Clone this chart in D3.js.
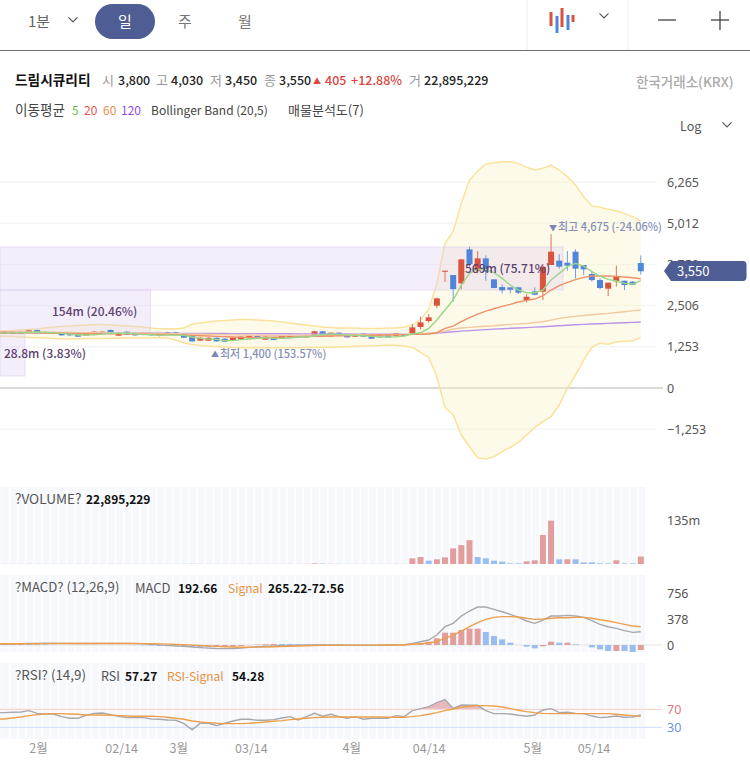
<!DOCTYPE html>
<html><head><meta charset="utf-8">
<script src="https://cdn.jsdelivr.net/npm/d3@7"></script>
<style>
html,body{margin:0;padding:0;background:#fff;overflow:hidden}
text{font-family:"Noto Sans CJK KR","Noto Sans",sans-serif}
</style></head><body>
<svg id="c" width="750" height="784"></svg>
<script>
const opens=[1652,1652,1652,1682,1763,1702,1702,1672,1672,1631,1601,1642,1652,1763,1591,1712,1672,1672,1662,1642,1692,1692,1631,1581,1439,1439,1530,1500,1439,1479,1510,1581,1469,1550,1510,1540,1611,1540,1611,1723,1571,1682,1621,1560,1652,1591,1621,1621,1581,1642,
1661,1854,2036,2503,3537,3436,3182,4216,3567,3942,3304,3070,3060,3060,2675,2939,2929,3740,3872,3811,4145,3740,3466,3283,3020,3243,3263,3233,3800];
const closes=[1712,1712,1712,1753,1682,1682,1672,1601,1601,1560,1662,1712,1712,1662,1672,1621,1601,1611,1601,1581,1621,1621,1530,1418,1530,1530,1418,1408,1530,1560,1591,1500,1560,1459,1581,1611,1540,1611,1723,1621,1682,1581,1540,1642,1560,1500,1540,1540,1662,1581,
1844,1996,2148,2726,3567,3010,3912,3770,3942,3537,3040,2969,2989,2898,2776,2837,3689,4145,3689,3720,3628,3608,3283,3040,3202,3385,3131,3141,3550];
const highs=[1725,1725,1730,1770,1780,1720,1715,1690,1690,1650,1680,1730,1725,1785,1690,1730,1690,1690,1680,1660,1710,1710,1650,1590,1545,1545,1540,1510,1545,1575,1605,1600,1575,1565,1595,1625,1625,1625,1735,1740,1695,1695,1635,1655,1665,1605,1635,1635,1675,1655,
1945,2168,2249,2746,3567,3436,3912,4297,4166,4034,3304,3152,3060,3080,2847,3060,3740,4675,4064,4166,4216,3740,3557,3334,3202,3720,3263,3253,4030];
const lows=[1640,1640,1640,1670,1670,1670,1660,1590,1590,1550,1590,1630,1640,1650,1580,1610,1590,1600,1590,1570,1610,1610,1520,1410,1430,1430,1410,1400,1430,1470,1500,1490,1460,1450,1500,1530,1530,1530,1600,1610,1560,1570,1530,1550,1550,1490,1530,1530,1570,1570,
1641,1793,1985,2432,3223,2624,3000,3689,3486,3263,3040,2878,2878,2858,2604,2817,2675,3740,3628,3567,3334,3436,3233,3000,2797,3081,2979,3131,3450];
const ma5=[1670,1675,1680,1690,1695,1690,1685,1660,1640,1610,1610,1620,1640,1670,1660,1670,1650,1630,1620,1600,1610,1610,1600,1550,1510,1490,1480,1440,1440,1470,1490,1510,1530,1510,1510,1520,1550,1550,1590,1620,1640,1630,1610,1600,1590,1570,1560,1550,1560,1580,
1641,1681,1813,2067,2371,2675,3131,3486,3608,3608,3506,3334,3131,2979,2898,2898,2979,3283,3486,3689,3790,3709,3537,3405,3304,3253,3182,3162,3263];
const ma20=[1690,1685,1680,1675,1670,1670,1665,1665,1660,1655,1650,1650,1650,1650,1650,1645,1640,1640,1635,1630,1625,1620,1610,1600,1590,1580,1570,1560,1550,1545,1540,1540,1545,1545,1550,1555,1560,1565,1570,1575,1580,1585,1590,1595,1600,1605,1610,1612,1615,1622,
1631,1631,1641,1681,1813,1884,2016,2138,2249,2340,2411,2482,2543,2614,2665,2705,2807,2979,3111,3212,3294,3365,3405,3405,3405,3395,3375,3354,3324];
const ma60=[1700,1700,1705,1705,1700,1700,1695,1690,1690,1685,1680,1680,1675,1675,1670,1670,1665,1665,1660,1660,1655,1650,1645,1640,1635,1630,1625,1620,1615,1610,1610,1605,1605,1600,1600,1600,1600,1600,1605,1605,1605,1610,1610,1610,1615,1615,1620,1620,1625,1630,
1640,1650,1665,1690,1732,1793,1823,1845,1864,1880,1894,1915,1935,1950,1965,1990,2016,2065,2117,2150,2178,2205,2229,2250,2269,2295,2320,2345,2371];
const ma120=[1690,1688,1686,1685,1682,1680,1679,1676,1675,1674,1673,1672,1671,1670,1669,1668,1667,1666,1665,1664,1663,1662,1661,1660,1659,1658,1657,1656,1655,1654,1653,1652,1651,1650,1649,1648,1647,1646,1645,1644,1643,1642,1641,1640,1639,1638,1637,1636,1635,1630,
1631,1645,1658,1672,1690,1710,1730,1745,1760,1775,1790,1800,1815,1825,1835,1850,1864,1880,1895,1910,1925,1935,1945,1955,1965,1975,1985,1995,2006];
const bbUpper=[1733,1749,1764,1779,1794,1825,1855,1870,1885,1901,1916,1931,1931,1916,1901,1885,1870,1855,1825,1794,1809,1794,1825,1946,1977,2007,2037,2053,2068,2083,2083,2068,2053,2037,2007,1977,1946,1916,1885,1855,1840,1825,1825,1825,1809,1809,1809,1825,1825,1855,
1915,2067,2391,3182,4399,4754,5616,6325,6599,6812,6853,6883,6883,6832,6711,6630,6680,6782,6630,6427,6173,5818,5545,5494,5433,5383,5311,5210,5078];
const bbLower=[1572,1563,1551,1539,1530,1521,1505,1490,1490,1496,1499,1505,1508,1511,1514,1517,1521,1524,1530,1530,1521,1460,1368,1323,1292,1277,1262,1247,1232,1225,1225,1222,1222,1222,1222,1222,1225,1229,1232,1235,1241,1247,1256,1268,1277,1283,1292,1308,1295,1277,
1236,1084,932,344,-589,-822,-1430,-1785,-2120,-2160,-2089,-1937,-1805,-1653,-1430,-1197,-1025,-873,-518,-11,395,851,1236,1358,1328,1399,1419,1439,1531];
const volume=[0.4,0.3,0.4,0.5,0.5,0.3,0.3,0.4,0.4,0.5,0.4,0.5,0.4,0.6,0.5,0.4,0.3,0.3,0.3,0.4,0.3,0.3,0.5,0.9,0.5,0.4,0.5,0.4,0.4,0.4,0.5,0.4,0.4,0.4,0.4,0.5,0.4,0.5,2.0,1.0,0.7,0.6,0.4,0.4,0.5,0.5,0.3,0.3,0.5,0.4,
17.4,21.5,10.2,14.3,20.5,48,58,73,21.5,17.4,10.2,7.2,2,2,8.2,11.3,89,133,14.3,14.3,14.3,5,5,2,2,11.3,2,2,22.9];
const volumeUp=[1,1,1,1,0,0,0,0,0,0,1,1,1,0,1,0,0,0,0,0,0,0,0,0,1,1,0,0,1,1,1,0,1,0,1,1,0,1,1,0,1,0,0,1,0,0,0,0,1,0,
1,1,0,1,1,1,1,1,0,0,0,0,0,0,1,1,1,1,0,1,0,0,0,0,0,1,0,0,1];
const macd=[15,18,20,22,24,25,25,24,23,22,21,22,23,24,24,23,20,16,10,2,-5,-12,-20,-30,-38,-45,-50,-52,-50,-45,-35,-25,-18,-12,-8,-5,-3,-2,0,2,2,0,-2,-3,-3,-3,-2,0,2,5,
24,48,73,145,266,315,421,494,552,552,518,484,446,402,349,315,363,421,421,431,421,402,354,300,266,242,208,184,193];
const signal=[18,18,18,19,19,20,20,21,21,21,21,21,22,22,22,22,21,20,18,16,12,8,3,-2,-8,-14,-20,-25,-29,-32,-32,-31,-29,-26,-22,-18,-14,-11,-8,-6,-4,-3,-2,-2,-2,-2,-1,-1,0,1,
10,19,29,53,97,145,203,266,325,373,402,412,412,407,388,373,378,388,397,397,402,402,388,368,349,325,300,276,265];
const hist=[12,15,18,15,10,8,5,3,2,1,1,1,1,2,2,1,-1,-4,-8,-14,-17,-20,-23,-28,-30,-31,-30,-27,-21,-13,-3,6,11,14,14,13,11,9,8,8,6,3,0,-1,-1,-1,-1,1,2,4,
15,24,48,97,179,179,218,237,237,189,131,82,34,0,-24,-48,-19,48,34,34,10,0,-34,-63,-87,-87,-87,-102,-73];
const histUp=[1,1,1,0,0,0,0,0,0,0,0,0,0,1,1,0,0,0,0,0,0,0,0,0,0,0,1,1,1,1,1,1,1,1,0,0,0,0,0,1,0,0,0,0,0,0,0,1,1,1,
1,1,1,1,1,1,1,1,1,0,0,0,0,0,0,0,1,1,0,1,0,0,0,0,0,1,0,0,1];
const rsi=[62.6,63.3,64,67,61,59.6,59.6,53.7,50,50,56.7,61,61.9,58.2,54.5,51.5,51.5,51.5,48.5,47.8,46.3,45.6,38.2,24.2,38.9,38.9,33.7,38.9,44.1,47.8,47.8,45.6,45.6,47,50.8,53.7,46.3,53.7,61,54.5,58.9,53.7,50,53.7,47.8,50,50,50,55.9,53.7,
67,71.5,76,85,91.5,72,79.6,78.9,78.9,67,60.4,60.4,59.6,56.7,54.5,57.4,68.5,71.5,62.6,63.3,61,60.4,55,51.5,53,55,52.2,53,57.3];
const rsiSignal=[48.5,50.8,53,55.9,58.2,59.6,60.4,60.4,59.6,58.9,57.4,57.4,57.4,56.7,55.9,55.2,54.5,54.5,54.5,53.7,52.2,50,47.8,44.1,41.9,40.4,38.9,38.2,38.2,38.2,38.9,40.4,41.9,43.4,44.9,47,48.5,50,51.5,52.2,53,53,53,53,53,53,53,52.2,52.2,52.2,
53.7,55.9,58.9,62.6,67,70.7,74.4,76.7,78.1,78.1,77.4,75.2,71.5,67.8,64.8,62.6,61,60.4,60.4,60.4,60.4,60.4,60.4,60.4,60.4,58.9,57.4,55.9,54.3];
const priceTicks=[6265,5012,3759,2506,1253,0,-1253];
const volumeTicks=[135];
const macdTicks=[756,378,0];
const rsiLevels=[70,30];
const dateLabels=["2월","02/14","3월","03/14","4월","04/14","5월","05/14"];
const dateIndex=[4.1,14.3,21.3,30.2,42.5,52,64.7,72.2];
const profileBins=[[4288,2980,569,"569m (75.71%)"],[2980,1672,152,"154m (20.46%)"],[1672,364,25.3,"28.8m (3.83%)"]];

const RED="#d9533d",BLUE="#4f86d9",BARRED="#e29d9d",BARBLUE="#98bdf2";
const svg=d3.select("#c");
const idx=d3.range(opens.length);
const x=d3.scaleLinear().domain([0,78]).range([4.5,640.8]);
const y=d3.scaleLinear().domain([0,6265]).range([388,182]);
const yVol=d3.scaleLinear().domain([0,135]).range([564,520]);
const yMacd=d3.scaleLinear().domain([0,756]).range([645,593]);
const yRsi=d3.scaleLinear().domain([30,70]).range([727.3,709.3]);
const xProfile=d3.scaleLinear().domain([0,569]).range([0,563]);
const leftX=x(-0.55);

/* ---- header ---- */
const T=(s,px,py,o={})=>svg.append("text").attr("x",px).attr("y",py).text(s)
  .attr("font-size",o.size||13).attr("fill",o.fill||"#222").attr("font-weight",o.weight||400)
  .attr("text-anchor",o.anchor||"start");
const chev=(cx,cy,w,col)=>svg.append("path").attr("d",`M${cx-w},${cy-w*0.6}L${cx},${cy+w*0.4}L${cx+w},${cy-w*0.6}`)
  .attr("fill","none").attr("stroke",col||"#555").attr("stroke-width",1.2);
T("1분",28,27,{size:15,fill:"#666"});
chev(73,20,4.5);
svg.append("rect").attr("x",95).attr("y",4).attr("width",60).attr("height",35).attr("rx",17.5).attr("fill","#4e5d94");
T("일",125,27,{size:15,fill:"#fff",anchor:"middle"});
T("주",185,27,{size:15,fill:"#777",anchor:"middle"});
T("월",245,27,{size:15,fill:"#777",anchor:"middle"});
[527,628].forEach(v=>svg.append("line").attr("x1",v).attr("x2",v).attr("y1",0).attr("y2",50).attr("stroke","#eeeeee"));
const iconBars=[[551,12,26,RED],[557,16,33,BLUE],[562,8,27,RED],[568,15,30,BLUE],[573,15,22,RED]];
iconBars.forEach(b=>svg.append("rect").attr("x",b[0]-1.5).attr("y",b[1]).attr("width",3).attr("height",b[2]-b[1]).attr("fill",b[3]));
chev(604,16,4.5);
svg.append("line").attr("x1",658).attr("x2",676).attr("y1",20).attr("y2",20).attr("stroke","#333").attr("stroke-width",1.2);
svg.append("line").attr("x1",711).attr("x2",729).attr("y1",20).attr("y2",20).attr("stroke","#333").attr("stroke-width",1.2);
svg.append("line").attr("x1",720).attr("x2",720).attr("y1",11).attr("y2",30).attr("stroke","#333").attr("stroke-width",1.2);
svg.append("line").attr("x1",0).attr("x2",750).attr("y1",50.5).attr("y2",50.5).attr("stroke","#6e7276").attr("stroke-width",1);

T("드림시큐리티",15,85,{weight:700,fill:"#111",size:13.7});
[["시",102],["고",156],["저",210],["종",264],["거",409]].forEach(d=>T(d[0],d[1],85,{fill:"#999"}));
[["3,800",118],["4,030",171],["3,450",225],["3,550",279],["22,895,229",424]].forEach(d=>T(d[0],d[1],85,{weight:500,size:12.5}));
T("▲",313,84,{fill:"#d9453d",size:8});
T("405",325,85,{fill:"#d9453d",weight:500,size:12.5});
T("+12.88%",351,85,{fill:"#d9453d",weight:500,size:12.5});
T("한국거래소(KRX)",636,87,{fill:"#aaa",weight:500,size:13.5});
T("이동평균",15,115,{fill:"#444",size:13.6});
T("5",72,115,{fill:"#6cc24a",size:12});T("20",84,115,{fill:"#ef5350",size:12});T("60",103,115,{fill:"#ee8a4e",size:12});T("120",121,115,{fill:"#8b4fe8",size:12});
T("Bollinger Band (20,5)",151,115,{fill:"#444",size:12});
T("매물분석도(7)",288,115,{fill:"#444",size:13});
T("Log",680,131,{fill:"#555",size:12.5});
chev(727,125,4.5);

/* ---- price pane ---- */
const grid=svg.append("g");
priceTicks.forEach(v=>grid.append("line").attr("x1",0).attr("x2",v===0?663:657).attr("y1",y(v)).attr("y2",y(v))
  .attr("stroke",v===0?"#d9d9d9":"#f5f5f5").attr("stroke-width",v===0?2:1.5));

const lineOf=a=>d3.line().x(d=>d[0]).y(d=>y(d[1]))([[leftX,a[0]],...a.map((v,i)=>[x(i),v])]);
const bandPts=[-0.55,...idx];
svg.append("path").attr("d",d3.area().x(i=>x(i)).y0(i=>y(bbLower[Math.max(i,0)])).y1(i=>y(bbUpper[Math.max(i,0)]))(bandPts))
  .attr("fill","#fdf2c4").attr("fill-opacity",0.36);
svg.append("path").attr("d",lineOf(bbUpper)).attr("fill","none").attr("stroke","#fbe29c").attr("stroke-width",1.5);
svg.append("path").attr("d",lineOf(bbLower)).attr("fill","none").attr("stroke","#fbe29c").attr("stroke-width",1.5);

profileBins.forEach(b=>svg.append("rect").attr("x",0).attr("y",y(b[0])).attr("width",xProfile(b[2])).attr("height",y(b[1])-y(b[0]))
  .attr("fill","#dcc8f2").attr("fill-opacity",0.3).attr("stroke","#d9c6ee").attr("stroke-opacity",0.5));

const cw=6;
const cg=svg.append("g");
cg.selectAll(".w").data(idx).join("line").attr("x1",i=>x(i)).attr("x2",i=>x(i)).attr("y1",i=>y(highs[i])).attr("y2",i=>y(lows[i]))
  .attr("stroke",i=>closes[i]>=opens[i]?"#e0705c":"#6d9ce2").attr("stroke-width",1);
cg.selectAll(".b").data(idx).join("rect").attr("x",i=>x(i)-cw/2).attr("width",cw)
  .attr("y",i=>y(Math.max(opens[i],closes[i]))).attr("height",i=>Math.max(1,Math.abs(y(opens[i])-y(closes[i]))))
  .attr("fill",i=>closes[i]>=opens[i]?RED:BLUE);

[[ma120,"#bc93ea"],[ma60,"#f3c9a0"],[ma20,"#ee9068"],[ma5,"#9ad688"]].forEach(d=>
  svg.append("path").attr("d",lineOf(d[0])).attr("fill","none").attr("stroke",d[1]).attr("stroke-width",1.4));

const profileTextX=[465,52,4],profileTextY=[273,316,358];
profileBins.forEach((b,i)=>T(b[3],profileTextX[i],profileTextY[i],{size:12,weight:500,fill:"#5a4070"}));
T("▼",549,231,{size:8,fill:"#7d88b0"});
T("최고 4,675 (-24.06%)",558,231,{size:11,weight:500,fill:"#8490b6"});
T("▲",211,357,{size:8,fill:"#7d88b0"});
T("최저 1,400 (153.57%)",220,358,{size:11,weight:500,fill:"#8490b6"});

const axisY=(scale,ticks,fmt)=>{
  const g=svg.append("g").attr("transform","translate(667,0)").call(d3.axisRight(scale).tickValues(ticks).tickSize(0).tickPadding(0).tickFormat(fmt));
  g.select(".domain").remove();
  g.selectAll("text").attr("font-size",12.5).attr("fill","#555").style("font-family",'"Noto Sans","Noto Sans CJK KR",sans-serif');
  return g;
};
axisY(y,priceTicks,d3.format(","));

svg.append("path").attr("d","M664,271L671,261H743Q746.5,261 746.5,265V277Q746.5,281 743,281H671Z").attr("fill","#4e5d94");
T("3,550",677,276,{fill:"#fff",size:13});

/* ---- lower panes ---- */
const panes=[[487,564],[575,652],[663,739]];
panes.forEach(p=>{
  svg.append("g").selectAll("rect").data(idx).join("rect").attr("x",i=>x(i)-2.4).attr("width",6.8)
   .attr("y",p[0]).attr("height",p[1]-p[0]).attr("fill","#f6f8fc");
  svg.append("rect").attr("x",0).attr("y",p[0]).attr("width",1.5).attr("height",p[1]-p[0]).attr("fill","#f6f8fc");
});

/* volume */
svg.append("g").selectAll("rect").data(idx).join("rect").attr("x",i=>x(i)-3).attr("width",6)
  .attr("y",i=>yVol(volume[i])).attr("height",i=>564-yVol(volume[i]))
  .attr("fill",i=>volumeUp[i]?BARRED:BARBLUE);
T("?VOLUME?",15,504,{size:13.6,fill:"#555"});
T("22,895,229",86,504,{size:12,weight:700,fill:"#111"});
axisY(yVol,volumeTicks,d=>d+"m");

/* macd */
svg.append("line").attr("x1",0).attr("x2",663).attr("y1",yMacd(0)).attr("y2",yMacd(0)).attr("stroke","#e4e4e4");
svg.append("g").selectAll("rect").data(idx).join("rect").attr("x",i=>x(i)-3).attr("width",6)
  .attr("y",i=>Math.min(yMacd(hist[i]),yMacd(0))).attr("height",i=>Math.abs(yMacd(hist[i])-yMacd(0)))
  .attr("fill",i=>histUp[i]?BARRED:BARBLUE);
const lineM=a=>d3.line().x(d=>d[0]).y(d=>yMacd(d[1]))([[leftX,a[0]],...a.map((v,i)=>[x(i),v])]);
svg.append("path").attr("d",lineM(macd)).attr("fill","none").attr("stroke","#a8a8ac").attr("stroke-width",1.4);
svg.append("path").attr("d",lineM(signal)).attr("fill","none").attr("stroke","#eda04c").attr("stroke-width",1.4);
T("?MACD? (12,26,9)",15,592,{size:13.2,fill:"#555"});
T("MACD",135,593,{size:13,fill:"#555"});
T("192.66",178,593,{size:12,weight:700,fill:"#111"});
T("Signal",228,593,{size:12,fill:"#e8913e"});
T("265.22-72.56",268,593,{size:12,weight:700,fill:"#111"});
axisY(yMacd,macdTicks,d=>d);

/* rsi */
const defs=svg.append("defs");
defs.append("clipPath").attr("id","above").append("rect").attr("x",0).attr("y",660).attr("width",660).attr("height",yRsi(70)-660);
defs.append("clipPath").attr("id","below").append("rect").attr("x",0).attr("y",yRsi(30)).attr("width",660).attr("height",20);
const rsiArea=lv=>d3.area().x(i=>x(i)).y0(yRsi(lv)).y1(i=>yRsi(rsi[i]))(idx);
svg.append("path").attr("d",rsiArea(70)).attr("clip-path","url(#above)").attr("fill","#e7b9bf");
svg.append("path").attr("d",rsiArea(30)).attr("clip-path","url(#below)").attr("fill","#a9c4f0");
svg.append("line").attr("x1",0).attr("x2",662).attr("y1",yRsi(70)).attr("y2",yRsi(70)).attr("stroke","#f6d5d2").attr("stroke-width",1.2);
svg.append("line").attr("x1",0).attr("x2",662).attr("y1",yRsi(30)).attr("y2",yRsi(30)).attr("stroke","#d6e3fa").attr("stroke-width",1.2);
const lineR=a=>d3.line().x(d=>d[0]).y(d=>yRsi(d[1]))([[leftX,a[0]],...a.map((v,i)=>[x(i),v])]);
svg.append("path").attr("d",lineR(rsi)).attr("fill","none").attr("stroke","#a8a8ac").attr("stroke-width",1.4);
svg.append("path").attr("d",lineR(rsiSignal)).attr("fill","none").attr("stroke","#eda04c").attr("stroke-width",1.4);
T("?RSI? (14,9)",15,680,{size:13.4,fill:"#555"});
T("RSI",101,681,{size:12.5,fill:"#555"});
T("57.27",125,681,{size:12,weight:700,fill:"#111"});
T("RSI-Signal",167,681,{size:12,fill:"#e8913e"});
T("54.28",232,681,{size:12,weight:700,fill:"#111"});
const rg=axisY(yRsi,rsiLevels,d=>d);
rg.selectAll("text").attr("fill",d=>d===70?"#e07a7a":"#6f93e8");

/* date axis */
const xg=svg.append("g").attr("transform","translate(0,744)")
  .call(d3.axisBottom(x).tickValues(dateIndex).tickSize(0).tickPadding(0).tickFormat((d,i)=>dateLabels[i]));
xg.select(".domain").remove();
xg.selectAll("text").attr("font-size",12.5).attr("fill","#999").style("font-family",'"Noto Sans CJK KR","Noto Sans",sans-serif');
</script>
</body></html>
